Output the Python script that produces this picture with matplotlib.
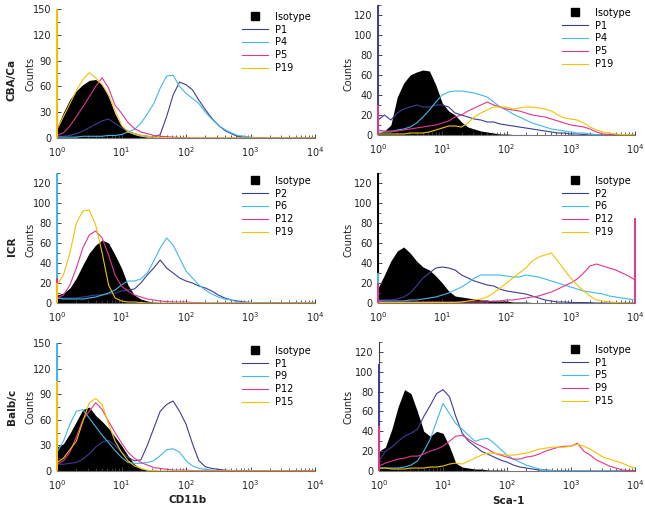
import numpy as np
import matplotlib
matplotlib.use("Agg")
import matplotlib.pyplot as plt
from matplotlib.lines import Line2D
from matplotlib.ticker import LogLocator, NullFormatter, AutoMinorLocator

# histogram bins, log10 of fluorescence (10^0 .. 10^4)
bin_log = np.linspace(0, 4, 41)

# ---- CBA/Ca, CD11b ----
cba_cd11b_iso = [12, 30, 45, 55, 62, 67, 68, 62, 48, 28, 14, 7, 4, 2, 1, 0.5] + [0] * 25
cba_cd11b_p1 = [2, 2, 3, 5, 8, 12, 16, 20, 22, 17, 12, 8, 5, 3, 2, 1, 4, 25, 50, 65, 62,
                56, 44, 33, 23, 15, 9, 5, 2, 1, 0.5] + [0] * 10
cba_cd11b_p4 = [1, 1, 1, 1, 2, 2, 2, 2, 3, 3, 4, 7, 10, 17, 28, 40, 58, 72, 73, 60, 52,
                46, 40, 30, 22, 15, 10, 6, 3, 2, 1, 0.5] + [0] * 9
cba_cd11b_p5 = [3, 6, 14, 25, 36, 48, 60, 70, 58, 38, 29, 18, 11, 7, 5, 3, 2, 1.5, 1, 0.5, 0.5] + [0] * 20
cba_cd11b_p19 = [10, 25, 40, 55, 68, 76, 70, 62, 50, 32, 15, 7, 5, 3, 2, 1, 0.5] + [0] * 24

# ---- CBA/Ca, Sca-1 ----
cba_sca1_iso = [2, 4, 10, 38, 52, 60, 63, 65, 64, 50, 32, 24, 20, 13, 8, 6, 4, 3, 2, 1, 1, 0.5] + [0] * 19
cba_sca1_p1 = [15, 20, 15, 22, 26, 28, 30, 28, 28, 30, 30, 28, 22, 20, 18, 16, 15, 13, 13, 11,
               10, 9, 8, 7, 6, 5, 4, 3, 2, 2, 1, 1, 0.5] + [0] * 8
cba_sca1_p4 = [3, 3, 3, 5, 6, 8, 12, 18, 25, 33, 40, 43, 44, 44, 43, 42, 40, 38, 33, 28,
               25, 21, 18, 15, 12, 10, 8, 6, 5, 4, 3, 2, 2, 1, 0.5] + [0] * 6
cba_sca1_p5 = [5, 4, 4, 4, 5, 6, 7, 8, 9, 10, 12, 14, 18, 20, 24, 27, 30, 33, 30, 28,
               26, 25, 24, 22, 20, 19, 18, 16, 14, 12, 10, 9, 8, 6, 3, 1, 0.5] + [0] * 4
cba_sca1_p19 = [1, 1, 1, 1, 1, 2, 2, 2, 3, 5, 7, 9, 9, 8, 12, 18, 22, 25, 28, 28,
                28, 26, 27, 28, 28, 27, 26, 24, 20, 17, 16, 15, 12, 8, 5, 3, 2, 1, 0.5, 0.5, 0]

# ---- ICR, CD11b ----
icr_cd11b_iso = [8, 10, 15, 25, 38, 50, 58, 63, 60, 48, 35, 18, 8, 4, 2, 1, 0.5] + [0] * 24
icr_cd11b_p2 = [5, 5, 5, 5, 6, 7, 8, 8, 9, 10, 12, 13, 14, 20, 28, 35, 43, 35, 30, 25,
                22, 20, 17, 15, 12, 8, 5, 3, 2, 1, 0.5] + [0] * 10
icr_cd11b_p6 = [5, 4, 4, 4, 4, 5, 6, 8, 10, 13, 18, 22, 22, 24, 30, 42, 55, 65, 58, 45,
                32, 25, 18, 13, 9, 6, 4, 3, 1, 0.5, 0.5, 0.5, 0.5, 0.5] + [0] * 7
icr_cd11b_p12 = [5, 8, 18, 35, 55, 68, 72, 65, 48, 28, 17, 12, 8, 6, 4, 3, 2, 1.5, 1, 1,
                 1, 0.5, 0.5] + [0] * 18
icr_cd11b_p19 = [18, 28, 50, 80, 92, 93, 78, 50, 18, 5, 2, 1, 1, 0.5] + [0] * 27

# ---- ICR, Sca-1 ----
icr_sca1_iso = [15, 28, 42, 52, 56, 50, 42, 36, 33, 27, 20, 12, 7, 6, 5, 4, 3, 3, 2, 2,
                2, 1, 1, 1, 0.5, 0.5] + [0] * 15
icr_sca1_p2 = [3, 3, 3, 4, 6, 10, 17, 25, 30, 35, 36, 35, 33, 28, 25, 22, 20, 18, 17, 14,
               12, 11, 10, 9, 7, 5, 3, 2, 1, 1, 0.5, 0.5, 0.5, 0.3] + [0] * 7
icr_sca1_p6 = [2, 2, 2, 2, 2, 3, 3, 4, 5, 6, 8, 10, 13, 16, 20, 25, 28, 28, 28, 28,
               27, 26, 26, 28, 27, 26, 24, 22, 20, 18, 16, 14, 12, 11, 10, 9, 7, 6, 5, 4, 3]
icr_sca1_p12 = [2] + [1] * 17 + [2, 2, 3, 3, 4, 5, 6, 7, 9, 11, 14, 17, 20, 24, 30, 37,
                                 39, 37, 35, 33, 30, 27, 23]
icr_sca1_p19 = [0.5] * 13 + [1, 2, 3, 4, 6, 10, 15, 20, 25, 30, 35, 42, 46, 48, 50, 42,
                             33, 25, 18, 12, 7, 3, 2, 1, 0.5, 0, 0, 0]

# ---- Balb/c, CD11b ----
balb_cd11b_iso = [28, 32, 44, 58, 72, 75, 65, 58, 50, 40, 30, 18, 8, 3, 1, 0.5] + [0] * 25
balb_cd11b_p1 = [8, 8, 9, 10, 14, 20, 28, 34, 36, 30, 22, 16, 12, 13, 30, 50, 70, 78, 82, 70,
                 55, 32, 12, 5, 3, 2, 1, 0.5, 0.5, 0.5, 0.5] + [0] * 10
balb_cd11b_p9 = [22, 35, 55, 70, 72, 62, 52, 42, 33, 24, 16, 10, 9, 9, 10, 12, 18, 25, 26, 22,
                 12, 6, 3, 2, 1, 0.5, 0.5, 0.5] + [0] * 13
balb_cd11b_p12 = [8, 12, 22, 40, 60, 70, 80, 72, 58, 45, 33, 22, 15, 10, 7, 4, 3, 2, 1, 1,
                  1] + [0.5] * 20
balb_cd11b_p15 = [10, 15, 25, 35, 58, 80, 85, 78, 55, 35, 22, 12, 6, 3, 1, 0.5] + [0] * 25

# ---- Balb/c, Sca-1 ----
balb_sca1_iso = [20, 24, 42, 65, 82, 78, 60, 40, 35, 40, 38, 25, 8, 4, 3, 2, 2, 1, 1, 1,
                 0.5, 0.5] + [0] * 19
balb_sca1_p1 = [10, 20, 24, 30, 35, 38, 42, 55, 66, 78, 82, 75, 55, 38, 30, 25, 20, 17, 14, 11,
                9, 6, 4, 3, 2, 1, 1, 0.5] + [0] * 13
balb_sca1_p5 = [3, 3, 3, 3, 4, 6, 10, 20, 32, 50, 68, 58, 48, 42, 36, 30, 32, 33, 28, 22,
                16, 12, 9, 6, 4, 2, 1, 0.5] + [0] * 13
balb_sca1_p9 = [5, 8, 10, 12, 13, 15, 15, 17, 20, 22, 25, 30, 35, 36, 32, 28, 25, 22, 18, 16,
                14, 12, 12, 14, 15, 17, 20, 22, 24, 25, 25, 28, 20, 16, 11, 8, 5, 3, 1, 0.5, 0.5]
balb_sca1_p15 = [3, 3, 2, 2, 2, 3, 3, 3, 4, 4, 5, 7, 8, 7, 10, 13, 16, 18, 18, 17,
                 16, 16, 17, 18, 20, 22, 23, 24, 24, 24, 25, 27, 25, 22, 18, 14, 12, 10, 8, 5, 3]

# off-scale first/last bin counts (drawn on the axis edges)
cba_cd11b_edge = [0, 0, 0, 0, 150]
cba_sca1_edge = [0, 130, 0, 30, 0]
icr_cd11b_edge = [0, 0, 130, 25, 20]
icr_sca1_edge = [130, 0, 30, 20, 0]
balb_cd11b_edge = [30, 0, 150, 25, 105]
balb_sca1_edge = [25, 108, 0, 45, 0]
icr_sca1_p12_last = 85

row_names = ["CBA/Ca", "ICR", "Balb/c"]
colors = ["#3b3e96", "#41b8e8", "#e0368e", "#f5c200"]

panels = [
    (cba_cd11b_iso, [cba_cd11b_p1, cba_cd11b_p4, cba_cd11b_p5, cba_cd11b_p19], cba_cd11b_edge,
     ["P1", "P4", "P5", "P19"]),
    (cba_sca1_iso, [cba_sca1_p1, cba_sca1_p4, cba_sca1_p5, cba_sca1_p19], cba_sca1_edge,
     ["P1", "P4", "P5", "P19"]),
    (icr_cd11b_iso, [icr_cd11b_p2, icr_cd11b_p6, icr_cd11b_p12, icr_cd11b_p19], icr_cd11b_edge,
     ["P2", "P6", "P12", "P19"]),
    (icr_sca1_iso, [icr_sca1_p2, icr_sca1_p6, icr_sca1_p12, icr_sca1_p19], icr_sca1_edge,
     ["P2", "P6", "P12", "P19"]),
    (balb_cd11b_iso, [balb_cd11b_p1, balb_cd11b_p9, balb_cd11b_p12, balb_cd11b_p15], balb_cd11b_edge,
     ["P1", "P9", "P12", "P15"]),
    (balb_sca1_iso, [balb_sca1_p1, balb_sca1_p5, balb_sca1_p9, balb_sca1_p15], balb_sca1_edge,
     ["P1", "P5", "P9", "P15"]),
]

W, H = 645, 509
plt.rcParams['font.family'] = 'DejaVu Sans'
fig = plt.figure(figsize=(W / 100, H / 100), dpi=100)

# axes rectangles in pixels: left, zero-line y, right, top y ; and y max
rects = [
    (57, 138, 315, 9, 150), (378, 135, 635, 5, 130),
    (57, 303, 315, 173, 130), (378, 303, 635, 173, 130),
    (57, 471, 315, 343, 150), (379, 471, 635, 342, 130),
]

x = 10 ** bin_log
for i, (iso, series, edge, labels) in enumerate(panels):
    l, b, r, t, ymax = rects[i]
    ax = fig.add_axes([l / W, (H - b) / H, (r - l) / W, (b - t) / H])
    ax.fill_between(x, iso, color="black", lw=0, zorder=1)
    for s, c in zip(series, colors):
        ax.plot(x, s, color=c, lw=0.8, zorder=2)
    for val, c in zip(edge, ["black"] + colors):
        if val > 0:
            ax.vlines(1, 0, val, color=c, lw=1.4, zorder=4, clip_on=False)
    if i == 3:
        ax.vlines(1e4, 0, icr_sca1_p12_last, color=colors[2], lw=1.4, zorder=4, clip_on=False)

    ax.set_xscale("log")
    ax.set_xlim(1, 1e4)
    ax.set_ylim(0, ymax)
    step = 30 if ymax == 150 else 20
    ax.set_yticks(np.arange(0, ymax + 1, step))
    ax.yaxis.set_minor_locator(AutoMinorLocator(2))
    ax.xaxis.set_major_locator(LogLocator(base=10, numticks=10))
    ax.xaxis.set_minor_locator(LogLocator(base=10, subs=np.arange(2, 10), numticks=10))
    ax.xaxis.set_minor_formatter(NullFormatter())
    ax.tick_params(axis="both", which="major", direction="in", length=3, width=0.7,
                   labelsize=7, colors="#444", labelcolor="#222")
    ax.tick_params(axis="x", which="major", pad=5)
    ax.tick_params(axis="y", which="major", pad=4)
    ax.tick_params(axis="both", which="minor", direction="in", length=2, width=0.6, colors="#444")
    for sp in ["top", "right"]:
        ax.spines[sp].set_visible(False)
    ax.spines["left"].set_color("#444")
    ax.spines["bottom"].set_color("#777")
    ax.spines["left"].set_linewidth(0.8)
    ax.spines["bottom"].set_linewidth(0.8)

    handles = [Line2D([], [], ls="none", marker="s", ms=5.5, color="black")]
    handles += [Line2D([], [], color=c, lw=0.8) for c in colors]
    ax.legend(handles, ["Isotype"] + labels, loc="upper right", bbox_to_anchor=(1.0, 1.01),
              frameon=False, fontsize=7, labelspacing=0.3, handlelength=2.6,
              handletextpad=0.8, borderaxespad=0)

    cx = 30 if i % 2 == 0 else 348
    cy = [74, 74, 240, 240, 407, 407][i]
    fig.text(cx / W, 1 - cy / H, "Counts", rotation=90, ha="center", va="center",
             fontsize=7, color="#222")

for name, cy in zip(row_names, [80, 246, 407]):
    fig.text(12 / W, 1 - cy / H, name, rotation=90, ha="center", va="center",
             fontsize=7.5, fontweight="bold", color="#222")

fig.text(188 / W, 1 - 500 / H, "CD11b", ha="center", va="center", fontsize=7.5,
         fontweight="bold", color="#222")
fig.text(508 / W, 1 - 501 / H, "Sca-1", ha="center", va="center", fontsize=7.5,
         fontweight="bold", color="#222")

fig.savefig("out.png", dpi=100)
